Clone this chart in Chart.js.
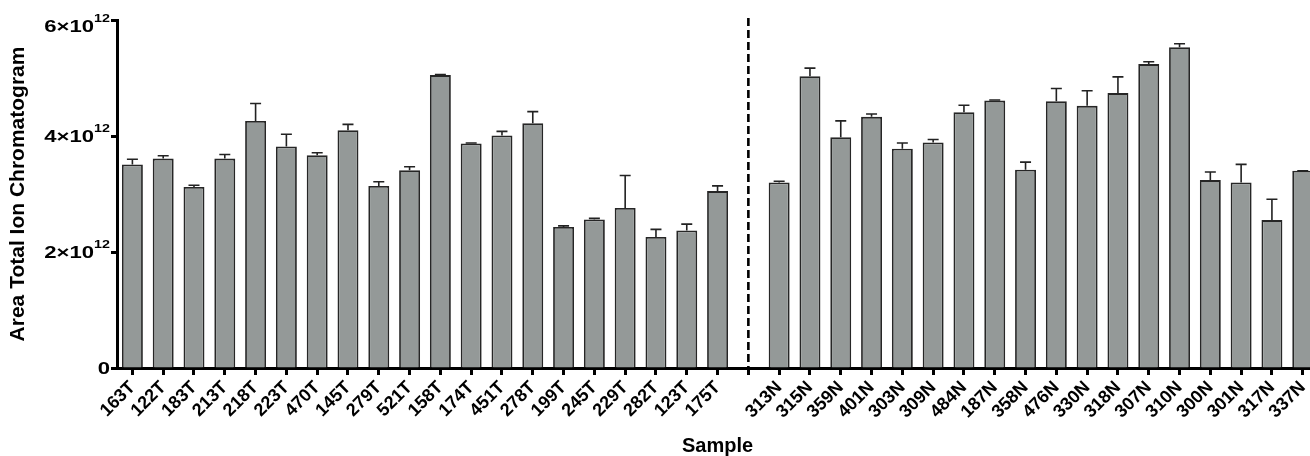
<!DOCTYPE html>
<html>
<head>
<meta charset="utf-8">
<script src="https://cdn.jsdelivr.net/npm/chart.js@4.4.1/dist/chart.umd.min.js"></script>
<style>
  html, body { margin: 0; padding: 0; background: #fff; overflow: hidden; }
  #wrap { position: relative; width: 1320px; height: 456px; }
</style>
</head>
<body>
<div id="wrap"><canvas id="chart"></canvas></div>
<script>
// samples, the blank slot between T and N holds the dashed divider
const samples = ['163T','122T','183T','213T','218T','223T','470T','145T','279T','521T',
  '158T','174T','451T','278T','199T','245T','229T','282T','123T','175T','',
  '313N','315N','359N','401N','303N','309N','484N','187N','358N','476N',
  '330N','318N','307N','310N','300N','301N','317N','337N'];

// mean area (x10^12)
const means = [3.51, 3.61, 3.12, 3.61, 4.26, 3.82, 3.67, 4.10, 3.14, 3.41,
  5.05, 3.87, 4.01, 4.22, 2.43, 2.56, 2.76, 2.26, 2.37, 3.05, null,
  3.20, 5.03, 3.98, 4.33, 3.78, 3.89, 4.41, 4.61, 3.42, 4.60,
  4.52, 4.74, 5.24, 5.53, 3.24, 3.20, 2.55, 3.40];

// top of the error bar (x10^12)
const upper = [3.60, 3.66, 3.15, 3.68, 4.56, 4.03, 3.71, 4.20, 3.21, 3.47,
  5.06, 3.88, 4.08, 4.42, 2.45, 2.58, 3.32, 2.39, 2.48, 3.14, null,
  3.22, 5.17, 4.26, 4.38, 3.88, 3.94, 4.53, 4.62, 3.55, 4.82,
  4.78, 5.02, 5.28, 5.59, 3.38, 3.51, 2.91, 3.40];

const yTicks = [0, 2, 4, 6];
const E = 1e12;

const font = "'Liberation Sans', Arial, Helvetica, sans-serif";

const extras = {
  id: 'extras',
  afterDatasetsDraw(chart) {
    const ctx = chart.ctx;
    const x = chart.scales.x, y = chart.scales.y;
    const meta = chart.getDatasetMeta(0);
    ctx.save();
    ctx.strokeStyle = '#222';
    ctx.lineWidth = 1.6;
    upper.forEach((u, i) => {
      if (u == null || means[i] == null) return;
      const cx = meta.data[i].x;
      const y0 = y.getPixelForValue(means[i] * E);
      const y1 = y.getPixelForValue(u * E);
      ctx.beginPath();
      ctx.moveTo(cx, y0);
      ctx.lineTo(cx, y1);
      ctx.moveTo(cx - 5.5, y1);
      ctx.lineTo(cx + 5.5, y1);
      ctx.stroke();
    });
    // divider between tumour and normal samples
    const dx = x.getPixelForValue(samples.indexOf(''));
    ctx.strokeStyle = '#000';
    ctx.lineWidth = 2.6;
    ctx.setLineDash([8, 4]);
    ctx.beginPath();
    ctx.moveTo(dx, chart.chartArea.top - 2);
    ctx.lineTo(dx, chart.chartArea.bottom);
    ctx.stroke();
    ctx.restore();
  },
  afterDraw(chart) {
    // y tick labels with a raised exponent
    const ctx = chart.ctx;
    const y = chart.scales.y;
    const right = chart.chartArea.left - 7;
    ctx.save();
    ctx.fillStyle = '#000';
    ctx.textBaseline = 'middle';
    yTicks.forEach(t => {
      const py = Math.max(y.getPixelForValue(t * E), 26);
      ctx.save();
      ctx.translate(right, py);
      ctx.scale(1.3, 1);
      ctx.textAlign = 'right';
      if (t === 0) {
        ctx.font = 'bold 17px ' + font;
        ctx.fillText('0', 0, 1);
      } else {
        ctx.font = 'bold 11px ' + font;
        const ew = ctx.measureText('12').width;
        ctx.fillText('12', 0, -7);
        ctx.font = 'bold 17px ' + font;
        ctx.fillText(t + '×10', -ew, 1);
      }
      ctx.restore();
    });
    ctx.restore();
  }
};

new Chart(document.getElementById('chart'), {
  type: 'bar',
  data: {
    labels: samples,
    datasets: [{
      data: means.map(v => v == null ? null : v * E),
      backgroundColor: '#949998',
      borderColor: '#262626',
      borderWidth: 1.8,
      barPercentage: 0.68,
      categoryPercentage: 1
    }]
  },
  options: {
    responsive: true,
    maintainAspectRatio: false,
    animation: false,
    layout: { padding: { top: 20, right: 0, bottom: 0, left: 0 } },
    plugins: { legend: { display: false }, tooltip: { enabled: false } },
    scales: {
      x: {
        afterFit(axis) { axis.height = 88; },
        grid: { display: true, drawOnChartArea: false, drawTicks: true, tickLength: 7, tickWidth: 3, tickColor: '#000', offset: false },
        border: { display: true, color: '#000', width: 3 },
        ticks: {
          autoSkip: false, maxRotation: 45, minRotation: 45, color: '#000', padding: 2,
          font: { family: font, size: 18, weight: 'bold' }
        },
        title: { display: true, text: 'Sample', color: '#000', padding: { top: 0, bottom: 0 },
          font: { family: font, size: 20, weight: 'bold', lineHeight: 1.0 } }
      },
      y: {
        min: 0, max: 6e12,
        afterBuildTicks(axis) { axis.ticks = yTicks.map(v => ({ value: v * E })); },
        afterFit(axis) { axis.width = 117; },
        grid: { display: true, drawOnChartArea: false, drawTicks: true, tickLength: 6, tickWidth: 3, tickColor: '#000' },
        border: { display: true, color: '#000', width: 3 },
        ticks: { display: false },
        title: { display: true, text: 'Area Total Ion Chromatogram', color: '#000', padding: { top: 6, bottom: 0 },
          font: { family: font, size: 21, weight: 'bold' } }
      }
    }
  },
  plugins: [extras]
});
</script>
</body>
</html>
